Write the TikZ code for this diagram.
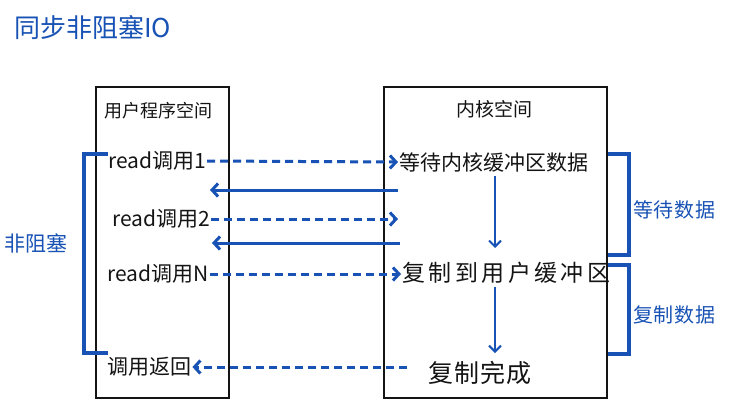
\documentclass[tikz,border=0pt]{standalone}
\usepackage{fontspec}
\setmainfont{Noto Sans CJK SC}
\usepackage{xcolor}
\definecolor{ink}{RGB}{20,20,20}
\definecolor{pen}{RGB}{24,82,180}
\usepackage{tikz}
\usetikzlibrary{arrows.meta, positioning, calc}

\begin{document}
\begin{tikzpicture}[
        x=1pt, y=-1pt,
        panel/.style={rectangle, draw=ink, line width=2pt, inner sep=0pt},
        txt/.style={inner sep=1pt, text=ink, font=\fontsize{#1}{#1}\selectfont},
        note/.style={inner sep=1pt, text=pen, font=\fontsize{#1}{#1}\selectfont},
        dasharrow/.style={-{Straight Barb[length=6pt, width=13pt]}, line width=3pt, color=pen, dash pattern=on 8pt off 5pt},
        arrow/.style={-{Straight Barb[length=6pt, width=13pt]}, line width=3pt, color=pen},
        thinarrow/.style={-{Straight Barb[length=6pt, width=12pt]}, line width=2pt, color=pen},
        bracket/.style={line width=3.2pt, color=pen}
    ]
        \useasboundingbox (0,0) rectangle (746,416);

        \node[note=26, anchor=west] (title) at (13,28) {同步非阻塞IO};

        \node[panel, minimum width=133pt, minimum height=311pt] (userbox) at (162.5,242.5) {};
        \node[panel, minimum width=223pt, minimum height=311pt] (kernelbox) at (495.5,242.5) {};

        \node[txt=18, anchor=west] (userlbl) at (103,111) {用户程序空间};
        \node[txt=19] (kernellbl) at (494,109) {内核空间};

        \node[txt=21, anchor=west] (read1) at (107,161) {read调用1};
        \node[txt=21, anchor=west] (read2) at (111,219) {read调用2};
        \node[txt=21, anchor=west] (readn) at (106,274) {read调用N};
        \node[txt=21, anchor=west] (ret) at (106,367) {调用返回};

        \node[txt=21, anchor=west] (wait) at (398,162) {等待内核缓冲区数据};
        \node[txt=23, anchor=west] (copy) at (401,273) {\addfontfeatures{LetterSpace=15}复制到用户缓冲区};
        \node[txt=25] (done) at (480,373) {\addfontfeatures{LetterSpace=4}复制完成};

        \node[note=20, anchor=west] (waitlbl) at (632,210) {\addfontfeatures{LetterSpace=4}等待数据};
        \node[note=20, anchor=west] (copylbl) at (632,315) {\addfontfeatures{LetterSpace=4}复制数据};
        \node[note=21, anchor=west] (nblbl) at (3,243) {非阻塞};

        \coordinate (k1) at (398,190);
        \coordinate (u1) at (210,190);
        \coordinate (k2) at (400,243);
        \coordinate (u2) at (212,243);

        \draw[dasharrow] (read1.east) -- (wait.west);
        \draw[arrow] (k1) -- (u1);
        \draw[dasharrow] (read2.east) -- (read2.east -| wait.west);
        \draw[arrow] (k2) -- (u2);
        \draw[dasharrow] (readn.east) -- (readn.east -| copy.west);
        \draw[dasharrow, shorten <=20pt] (done.west |- ret.east) -- (ret.east);

        \draw[thinarrow] (495,176) -- (495,248);
        \draw[thinarrow] (495,287) -- (495,353);

        \draw[bracket] (kernelbox.east |- 0,154) -| (629,255) -- (kernelbox.east |- 0,255);
        \draw[bracket] (kernelbox.east |- 0,265) -| (629,354) -- (kernelbox.east |- 0,354);
        \draw[bracket] (108,154) -| (84,353) -- (108,353);
    \end{tikzpicture}
\end{document}
